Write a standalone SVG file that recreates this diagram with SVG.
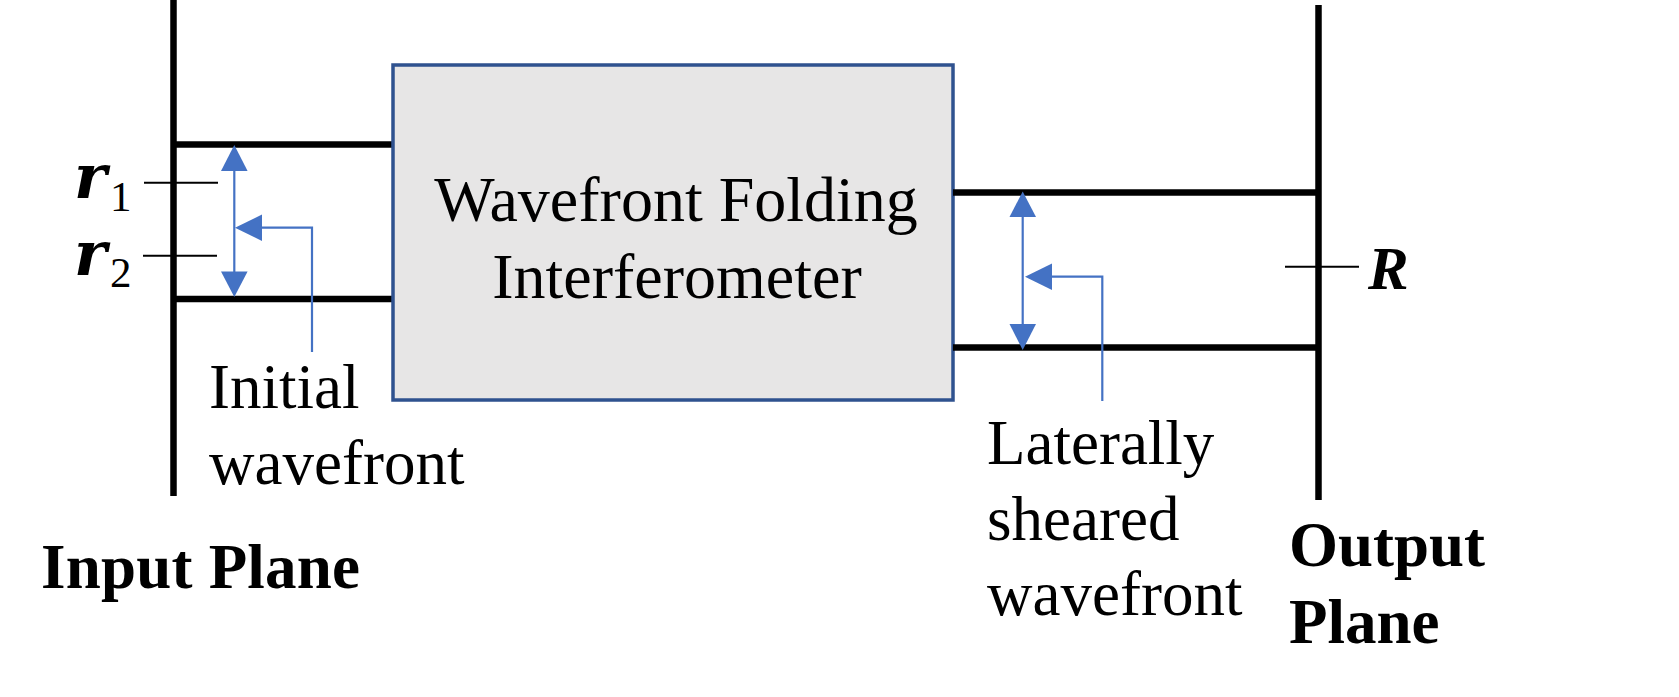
<svg xmlns="http://www.w3.org/2000/svg" width="1679" height="697" viewBox="0 0 1679 697">
<style>
.thick{stroke:#000;stroke-width:6.5;fill:none}
.thin{stroke:#000;stroke-width:2;fill:none}
.blue{stroke:#4472C4;stroke-width:2.2;fill:none}
.head{fill:#4472C4}
.t{font-family:"Liberation Serif","Times New Roman",serif;font-size:63px;fill:#000}
.box{font-size:64px}
.b{font-weight:bold}
.mi{font-family:"DejaVu Serif",serif;font-style:italic;font-weight:bold;font-size:62px;fill:#000}
.mR{font-family:"Liberation Serif",serif;font-style:italic;font-weight:bold;font-size:61px;fill:#000}
.sub{font-family:"Liberation Serif",serif;font-size:43px;fill:#000}
</style>
<rect width="1679" height="697" fill="#fff"/>
<g id="input-plane">
<line class="thick" x1="173.5" y1="0" x2="173.5" y2="496"/>
<line class="thick" x1="173.5" y1="144.5" x2="393" y2="144.5"/>
<line class="thick" x1="173.5" y1="299" x2="393" y2="299"/>
<line class="thin" x1="144" y1="182.7" x2="218" y2="182.7"/>
<line class="thin" x1="143" y1="255.7" x2="217" y2="255.7"/>
<text class="mi" x="74" y="198">r</text>
<text class="sub" x="110" y="210.5">1</text>
<text class="mi" x="74" y="275">r</text>
<text class="sub" x="110" y="286.5">2</text>
<text class="t b" x="41" y="588" textLength="319" lengthAdjust="spacing">Input Plane</text>
</g>
<g id="interferometer">
<rect x="393" y="65" width="560" height="335" fill="#E7E6E6" stroke="#2F528F" stroke-width="3.5"/>
<text class="t box" x="676" y="221" text-anchor="middle">Wavefront Folding</text>
<text class="t box" x="677" y="298" text-anchor="middle">Interferometer</text>
</g>
<g id="output-plane">
<line class="thick" x1="1318.5" y1="5" x2="1318.5" y2="500"/>
<line class="thick" x1="953" y1="192.5" x2="1318.5" y2="192.5"/>
<line class="thick" x1="953" y1="347.5" x2="1318.5" y2="347.5"/>
<line class="thin" x1="1285" y1="266.7" x2="1359" y2="266.7"/>
<text class="mR" x="1368" y="288.5">R</text>
<text class="t b" x="1289" y="566">Output</text>
<text class="t b" x="1289" y="642.5">Plane</text>
</g>
<g id="initial-wavefront-label">
<text class="t" x="209" y="407.5">Initial</text>
<text class="t" x="209" y="484">wavefront</text>
</g>
<g id="sheared-wavefront-label">
<text class="t" x="987" y="464">Laterally</text>
<text class="t" x="987" y="540">sheared</text>
<text class="t" x="987" y="615">wavefront</text>
</g>
<g id="connectors">
<line class="blue" x1="234.3" y1="168" x2="234.3" y2="274"/>
<polygon class="head" points="234.3,145 221,171 247.6,171"/>
<polygon class="head" points="234.3,297 221,271.5 247.6,271.5"/>
<polyline class="blue" points="260,227.7 312,227.7 312,352"/>
<polygon class="head" points="235,227.7 262,214.5 262,241"/>
<line class="blue" x1="1022.7" y1="214" x2="1022.7" y2="327"/>
<polygon class="head" points="1022.7,191.5 1009.5,217 1036,217"/>
<polygon class="head" points="1022.7,350 1009.5,324 1036,324"/>
<polyline class="blue" points="1050,276.7 1102.3,276.7 1102.3,401"/>
<polygon class="head" points="1025,276.7 1052,263.5 1052,290"/>
</g>
</svg>
